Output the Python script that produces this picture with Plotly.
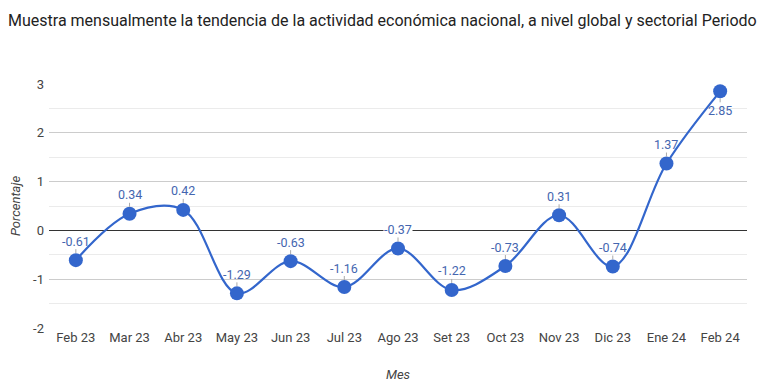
import plotly.graph_objects as go

meses = ["Feb 23", "Mar 23", "Abr 23", "May 23", "Jun 23", "Jul 23", "Ago 23",
         "Set 23", "Oct 23", "Nov 23", "Dic 23", "Ene 24", "Feb 24"]
valores = [-0.61, 0.34, 0.42, -1.29, -0.63, -1.16, -0.37, -1.22, -0.73, 0.31, -0.74, 1.37, 2.85]
y_ticks = [-2, -1, 0, 1, 2, 3]

LINE = "#3366cc"
FONT = "Roboto, Arial, sans-serif"

W, H = 762, 380  # page body has an 8px margin
PX_PER_UNIT = (H - 76 - 60) / 5.0
OFFSET = 19

fig = go.Figure()
fig.add_trace(go.Scatter(
    x=meses, y=valores, mode="lines+markers",
    line=dict(color=LINE, width=2.2, shape="spline", smoothing=1),
    marker=dict(color=LINE, size=14),
    hoverinfo="x+y", showlegend=False,
))

for i, (m, v) in enumerate(zip(meses, valores)):
    below = (i == len(meses) - 1)
    ay = OFFSET if below else -OFFSET
    # label box crosses the zero line -> give it a white background (halo)
    crosses_zero = abs(v * PX_PER_UNIT - ay) < 8
    fig.add_annotation(
        x=m, y=v, text=f"{v:.2f}",
        showarrow=True, arrowhead=0, arrowwidth=1, arrowcolor="#aaaaaa",
        ax=0, ay=ay, standoff=7, borderpad=0,
        font=dict(family=FONT, size=12.5, color="#4466b0"),
        bgcolor="white" if crosses_zero else "rgba(0,0,0,0)",
    )

fig.update_layout(
    width=W, height=H,
    margin=dict(l=41, r=23, t=76, b=60, autoexpand=False),
    paper_bgcolor="white", plot_bgcolor="white",
    title=dict(text="Muestra mensualmente la tendencia de la actividad económica nacional, a nivel global y sectorial Periodo",
               x=0, xref="container", xanchor="left", y=1 - 12 / H, yanchor="middle",
               pad=dict(l=0, r=0, t=0, b=0),
               font=dict(family=FONT, size=16, color="#222222")),
    font=dict(family=FONT, color="#444444", size=13),
    xaxis=dict(
        type="category", range=[-0.5, 12.5], showgrid=False, showline=False,
        ticks="", tickfont=dict(size=13, color="#444444"),
        title=dict(text="<i>Mes</i>", font=dict(size=13, color="#444444"), standoff=25),
        zeroline=False, fixedrange=True, automargin=False,
    ),
    yaxis=dict(
        range=[-2, 3], tickvals=y_ticks, ticktext=[str(t) for t in y_ticks],
        showgrid=True, gridcolor="#cccccc", gridwidth=1,
        minor=dict(dtick=0.5, showgrid=True, gridcolor="#ebebeb", gridwidth=1),
        zeroline=True, zerolinecolor="#333333", zerolinewidth=1,
        tickfont=dict(size=13, color="#444444"), ticks="", ticklabelstandoff=4,
        title=dict(text="<i>Porcentaje</i>", font=dict(size=13, color="#444444"), standoff=12),
        fixedrange=True, automargin=False,
    ),
)

fig.write_html("out.html")
